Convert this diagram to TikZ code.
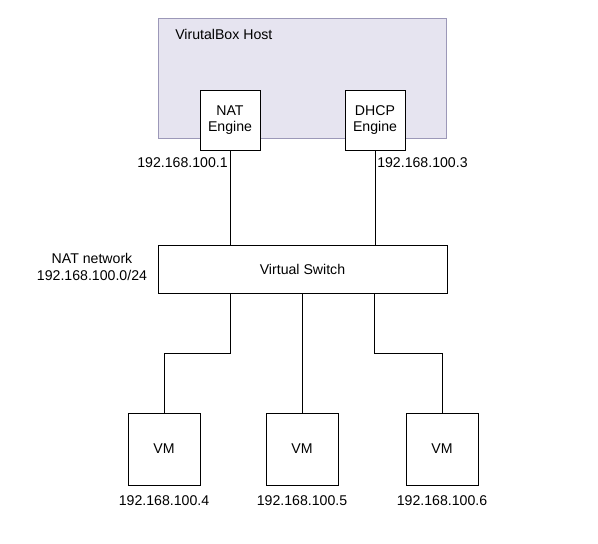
\documentclass[tikz,border=0pt]{standalone}
\usepackage{fontspec}
\setmainfont{Liberation Sans}
\begin{document}
\begin{tikzpicture}[x=0.75pt,y=-0.75pt,
  font=\fontsize{10.6}{12.4}\selectfont,
  box/.style={draw=black,fill=white,line width=0.75pt,inner sep=0pt,align=center},
  wire/.style={draw=black,line width=0.75pt},
  lbl/.style={inner sep=0pt,align=center}]
\useasboundingbox (0,0) rectangle (598,543);
\node[draw={rgb,255:red,156;green,152;blue,184},fill={rgb,255:red,230;green,228;blue,240},line width=0.75pt,minimum width=288*0.75pt,minimum height=120*0.75pt,inner sep=0pt] (host) at (302,78) {};
\node[lbl,anchor=west] (hostlbl) at (175,34) {VirutalBox Host};
\node[box,minimum width=60*0.75pt,minimum height=60*0.75pt] (nat) at (230,120) {NAT\\Engine};
\node[box,minimum width=60*0.75pt,minimum height=60*0.75pt] (dhcp) at (375,120) {DHCP\\Engine};
\node[box,minimum width=289*0.75pt,minimum height=48*0.75pt] (sw) at (302.5,269) {Virtual Switch};
\node[box,minimum width=72*0.75pt,minimum height=72*0.75pt] (vm1) at (164,449) {VM};
\node[box,minimum width=72*0.75pt,minimum height=72*0.75pt] (vm2) at (302,449) {VM};
\node[box,minimum width=72*0.75pt,minimum height=72*0.75pt] (vm3) at (442,449) {VM};
\node[lbl,anchor=east] (ip1) at (228,163) {192.168.100.1};
\node[lbl,anchor=west] (ip3) at (377,163) {192.168.100.3};
\node[lbl] (netlbl) at (92,267) {NAT network\\192.168.100.0/24};
\node[lbl] (ip4) at (164,501) {192.168.100.4};
\node[lbl] (ip5) at (302,501) {192.168.100.5};
\node[lbl] (ip6) at (442,501) {192.168.100.6};
\coordinate (s1) at (230,293);
\coordinate (s2) at (302,293);
\coordinate (s3) at (374,293);
\draw[wire] (nat.south) -- (nat.south |- sw.north);
\draw[wire] (dhcp.south) -- (dhcp.south |- sw.north);
\draw[wire] (s1) -- (230,353) -- (164,353) -- (vm1.north);
\draw[wire] (s2) -- (vm2.north);
\draw[wire] (s3) -- (374,353) -- (442,353) -- (vm3.north);
\end{tikzpicture}
\end{document}
